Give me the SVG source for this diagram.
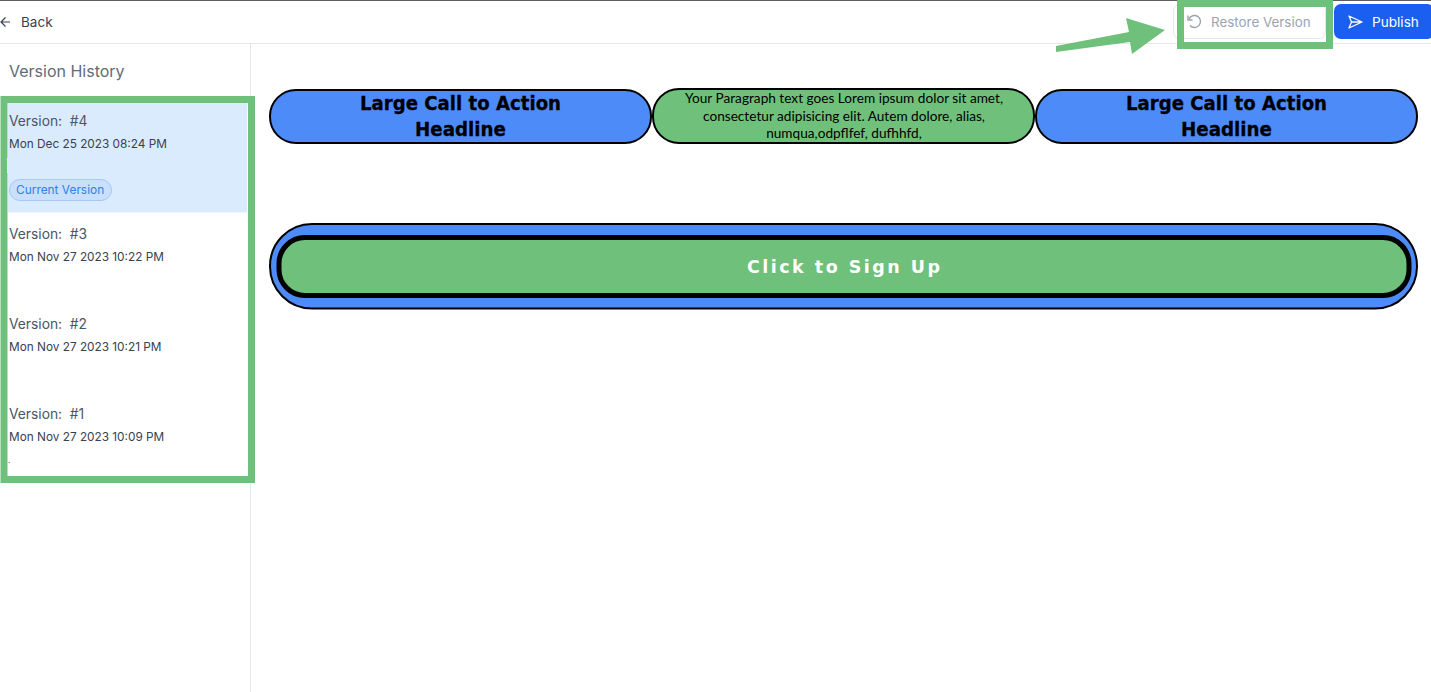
<svg xmlns="http://www.w3.org/2000/svg" width="1431" height="692" viewBox="0 0 1431 692">
<style>
.ui{font-family:Inter,"Liberation Sans",sans-serif}
.ver{font-size:13.800px;fill:#4b5563}
.date{font-size:11.800px;fill:#374151}
.hl{font-family:"DejaVu Sans","Liberation Sans",sans-serif;font-size:19.500px;font-weight:700;fill:#000;stroke:#000;stroke-width:.3;text-anchor:middle}
.para{font-family:Lato,"Liberation Sans",sans-serif;font-size:13.650px;fill:#000;text-anchor:middle}
.blue{fill:#4d8bf8;stroke:#000;stroke-width:2}
.green{fill:#6fc07b;stroke:#000;stroke-width:2}
.frame{fill:none;stroke:#6fc07b;stroke-width:7}
</style>
<rect width="1431" height="692" fill="#fff"/>
<g id="header">
<rect x="0" y="0" width="1431" height="1" fill="#5f5f5f"/>
<rect x="0" y="43" width="1431" height="1" fill="#e5e7eb"/>
<path d="M10 22H1M5.500 17.500L1 22L5.500 26.500" fill="none" stroke="#374151" stroke-width="1.200"/>
<text class="ui" x="21" y="27" font-size="13.500" fill="#374151">Back</text>
</g>
<g id="sidebar">
<rect x="250" y="44" width="1" height="648" fill="#e5e7eb"/>
<text class="ui" x="9" y="77" font-size="16" fill="#5f6b78">Version History</text>
</g>
<g id="version-4">
<rect x="8" y="103" width="239" height="109.500" fill="#dbebfe"/>
<text class="ui ver" x="9" y="126">Version:&#160; #4</text>
<text class="ui date" x="9" y="148">Mon Dec 25 2023 08:24 PM</text>
<rect x="9.500" y="179.500" width="102" height="21" rx="10.500" fill="#c9dffc" stroke="#a6c8f8"/>
<text class="ui" x="16" y="194" font-size="11.900" fill="#2f80ed">Current Version</text>
</g>
<g id="version-3">
<text class="ui ver" x="9" y="239">Version:&#160; #3</text>
<text class="ui date" x="9" y="261">Mon Nov 27 2023 10:22 PM</text>
</g>
<g id="version-2">
<text class="ui ver" x="9" y="329">Version:&#160; #2</text>
<text class="ui date" x="9" y="351">Mon Nov 27 2023 10:21 PM</text>
</g>
<g id="version-1">
<text class="ui ver" x="9" y="419">Version:&#160; #1</text>
<text class="ui date" x="9" y="441">Mon Nov 27 2023 10:09 PM</text>
<text class="ui" x="8" y="463" font-size="8" fill="#374151">.</text>
</g>
<g id="restore-version">
<rect x="1173.500" y="4.500" width="152" height="34" rx="6" fill="#fff" stroke="#e5e7eb"/>
<path d="M1189 19A6 6 0 1 1 1190 25.500" fill="none" stroke="#9ca3af" stroke-width="1.400"/>
<path d="M1188 15.500V20H1192.500" fill="none" stroke="#9ca3af" stroke-width="1.400"/>
<text class="ui" x="1211" y="26.500" font-size="13.400" fill="#9ca3af">Restore Version</text>
</g>
<g id="publish">
<rect x="1334" y="4" width="100" height="35" rx="7" fill="#1a5ff0"/>
<path d="M1349 16L1362 22L1349 28L1351.500 22ZM1351.500 22H1362" fill="none" stroke="#fff" stroke-width="1.300" stroke-linejoin="round"/>
<text class="ui" x="1372" y="26.500" font-size="13.600" fill="#fff">Publish</text>
</g>
<g id="cta-left">
<rect class="blue" x="270" y="90" width="381" height="53" rx="26"/>
<text class="hl" x="460.500" y="110" textLength="201" lengthAdjust="spacingAndGlyphs">Large Call to Action</text>
<text class="hl" x="460.500" y="135.500" textLength="91" lengthAdjust="spacingAndGlyphs">Headline</text>
</g>
<g id="paragraph">
<rect class="green" x="653" y="89" width="381" height="54" rx="26"/>
<text class="para" x="844" y="103">Your Paragraph text goes Lorem ipsum dolor sit amet,</text>
<text class="para" x="844" y="120.500">consectetur adipisicing elit. Autem dolore, alias,</text>
<text class="para" x="844" y="138">numqua,odpflfef, dufhhfd,</text>
</g>
<g id="cta-right">
<rect class="blue" x="1036" y="90" width="381" height="53" rx="26"/>
<text class="hl" x="1226.500" y="110" textLength="201" lengthAdjust="spacingAndGlyphs">Large Call to Action</text>
<text class="hl" x="1226.500" y="135.500" textLength="91" lengthAdjust="spacingAndGlyphs">Headline</text>
</g>
<g id="signup">
<rect class="blue" x="270" y="224" width="1147" height="84.500" rx="42"/>
<rect x="279" y="237.500" width="1130" height="58" rx="26" fill="#6fc07b" stroke="#000" stroke-width="5"/>
<text x="843.500" y="272.500" font-family="'DejaVu Sans','Liberation Sans',sans-serif" font-size="17.500" font-weight="700" fill="#fff" text-anchor="middle" textLength="193" lengthAdjust="spacing">Click to Sign Up</text>
</g>
<g id="highlights">
<rect class="frame" x="4" y="99.500" width="247.500" height="380"/>
<rect class="frame" x="1180.500" y="3.500" width="149" height="42"/>
<polygon points="1056,46 1129,32 1126,18 1165,30 1132,54 1130,42 1056,52" fill="#6fc07b"/>
<rect x="7" y="158" width="1" height="15" fill="#e3eff8"/>
</g>
</svg>
